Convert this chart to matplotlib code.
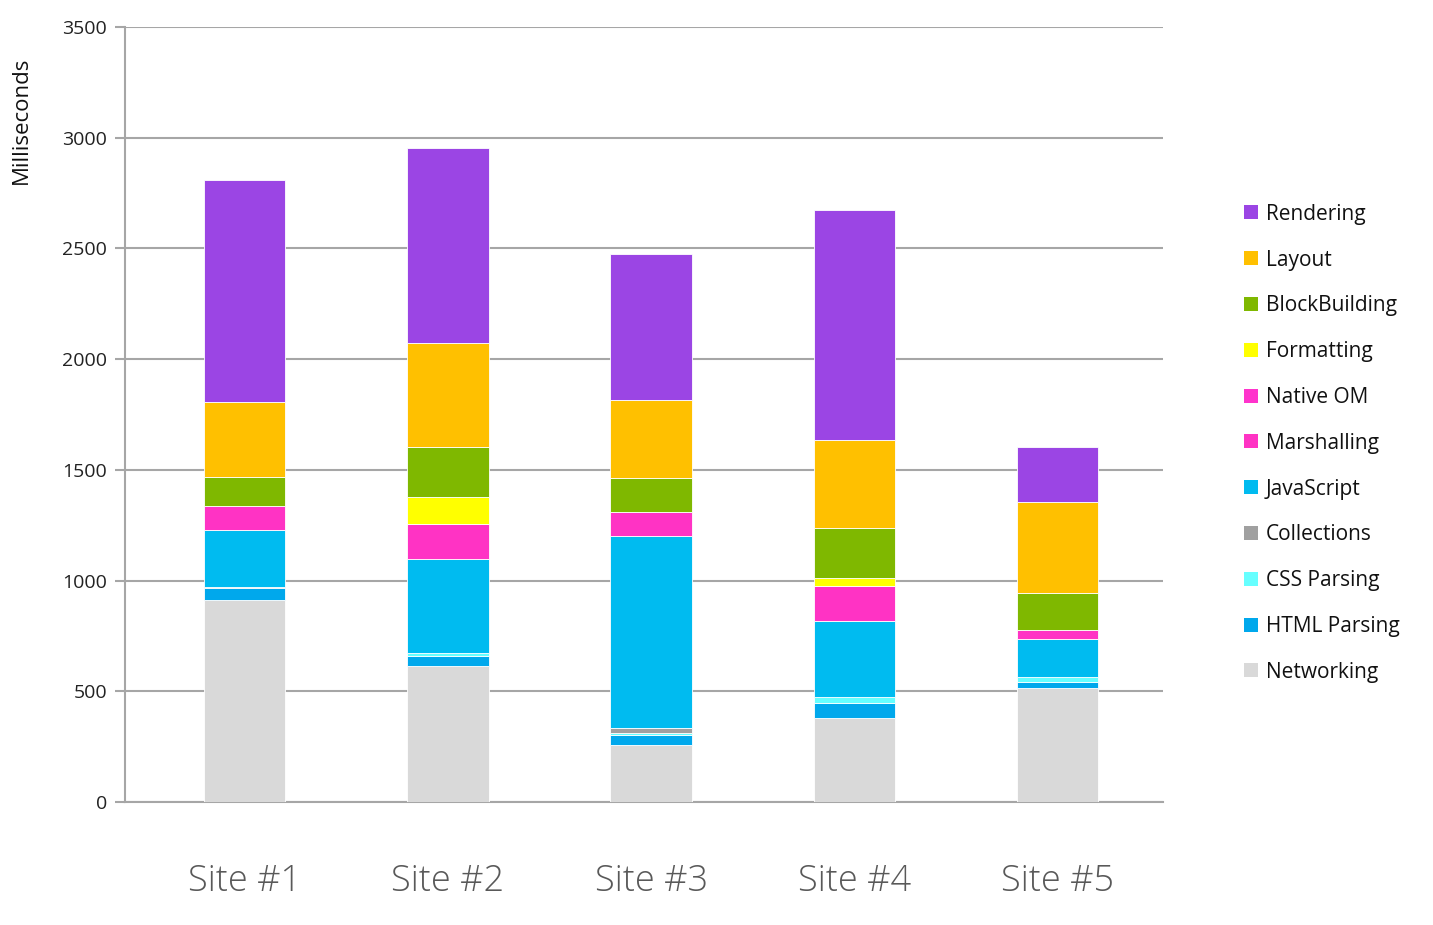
import numpy as np
import matplotlib.pyplot as plt

plt.rcParams['font.family'] = ['Open Sans', 'DejaVu Sans']

sites = ["Site #1", "Site #2", "Site #3", "Site #4", "Site #5"]

# stacked bottom to top
categories = ["Networking", "HTML Parsing", "CSS Parsing", "Collections", "JavaScript",
              "Marshalling", "Native OM", "Formatting", "BlockBuilding", "Layout", "Rendering"]
networking = [912, 616, 257, 381, 516]
html_parsing = [54, 43, 45, 68, 27]
css_parsing = [0, 12, 8, 27, 23]
collections = [5, 0, 23, 0, 0]
javascript = [257, 425, 870, 343, 169]
marshalling = [109, 158, 108, 158, 42]
native_om = [0, 0, 0, 0, 0]
formatting = [0, 125, 0, 33, 0]
blockbuilding = [131, 226, 154, 226, 165]
layout = [339, 468, 350, 400, 413]
rendering = [1002, 880, 660, 1039, 248]

colors = {
    "Rendering": "#9B45E4",
    "Layout": "#FFC000",
    "BlockBuilding": "#7FB800",
    "Formatting": "#FFFF00",
    "Native OM": "#FF33CC",
    "Marshalling": "#FF33C4",
    "JavaScript": "#00BBF0",
    "Collections": "#A0A0A0",
    "CSS Parsing": "#66FFFF",
    "HTML Parsing": "#00A8EC",
    "Networking": "#D9D9D9",
}

series = [networking, html_parsing, css_parsing, collections, javascript,
          marshalling, native_om, formatting, blockbuilding, layout, rendering]

fig = plt.figure(figsize=(14.33, 9.25), dpi=100)
ax = fig.add_axes([0.0872, 0.133, 0.7244, 0.8378])

x = np.arange(len(sites))
bottom = np.zeros(len(sites))
handles = {}
for name, vals in zip(categories, series):
    vals = np.array(vals, dtype=float)
    h = ax.bar(x, vals, width=0.4, bottom=bottom, color=colors[name],
               edgecolor="white", linewidth=0.6, label=name, zorder=3)
    handles[name] = h
    bottom += vals

ax.set_xlim(-0.59, 4.52)
ax.set_ylim(0, 3500)
ax.set_yticks(np.arange(0, 3501, 500))
ax.yaxis.grid(True, color="#a6a6a6", linewidth=1.5, zorder=0)
ax.set_axisbelow(True)
for s in ["top", "right"]:
    ax.spines[s].set_visible(False)
ax.spines["left"].set_color("#a6a6a6")
ax.spines["bottom"].set_color("#a6a6a6")
ax.spines["left"].set_linewidth(1.5)
ax.spines["bottom"].set_linewidth(1.5)
ax.tick_params(axis="y", length=7, width=1.5, color="#a6a6a6", labelsize=14,
               labelcolor="#222222", pad=6)
ax.tick_params(axis="x", length=0, pad=44)
ax.set_xticks(x)
ax.set_xticklabels(sites, fontsize=26, color="#595959", fontweight="light")
ax.set_ylabel("Milliseconds", fontsize=16, color="#111111")
ax.yaxis.set_label_coords(-0.0896, 0.88)

order = ["Rendering", "Layout", "BlockBuilding", "Formatting", "Native OM", "Marshalling",
         "JavaScript", "Collections", "CSS Parsing", "HTML Parsing", "Networking"]
leg = fig.legend([handles[n] for n in order], order, loc="upper left",
                 bbox_to_anchor=(0.855, 0.80), frameon=False, fontsize=15,
                 handlelength=0.65, handleheight=0.65, handletextpad=0.4,
                 labelspacing=1.19)
for p in leg.get_patches():
    p.set_edgecolor("none")
for t in leg.get_texts():
    t.set_color("#111111")

fig.savefig("out.png", dpi=100)
